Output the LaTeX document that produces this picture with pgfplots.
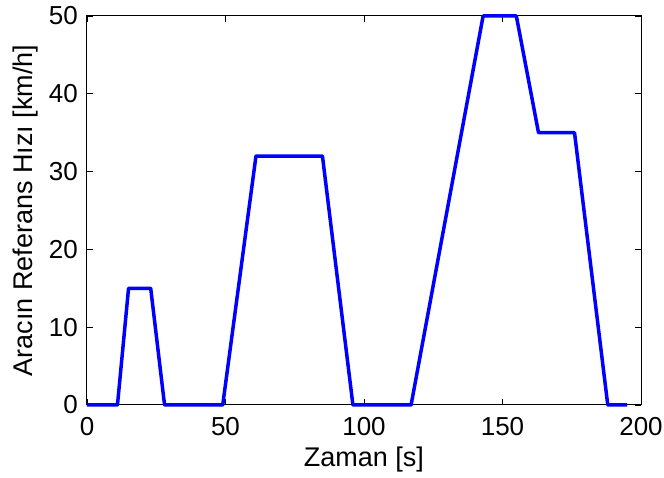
\documentclass[border=0pt]{standalone}
\usepackage{fontspec}
\setmainfont{Liberation Sans}
\usepackage{pgfplots}
\pgfplotsset{compat=1.18}

\begin{document}
\begin{tikzpicture}
  % page frame, in pixels of the reference
  \useasboundingbox (-87pt,-73pt) rectangle (577pt,405pt);
  \begin{axis}[
    at={(0pt,0pt)}, anchor=south west,
    scale only axis,
    width=554pt, height=389pt,
    xmin=0, xmax=200,
    ymin=0, ymax=50,
    xtick={0,50,100,150,200},
    ytick={0,10,20,30,40,50},
    tick align=inside,
    major tick length=6pt,
    tick style={black, line width=0.8pt},
    axis line style={black, line width=1pt},
    tick label style={font=\fontsize{26}{28}\selectfont, inner sep=0pt},
    label style={font=\fontsize{27}{29}\selectfont, inner sep=0pt},
    /pgf/number format/assume math mode=true,
    xticklabel style={anchor=north, yshift=-12pt},
    yticklabel style={anchor=east, xshift=-9pt},
    xlabel={Zaman [s]},
    ylabel={Aracın Referans Hızı [km/h]},
    xlabel style={at={(axis description cs:0.5,0)}, anchor=base, yshift=-62pt},
    ylabel style={at={(axis description cs:0,0.5)}, anchor=base, yshift=54pt},
    clip=false,
  ]
    \addplot[color=blue, line width=3.5pt, line join=round]
    coordinates {
    (0,0)(11,0)(15,15)(23,15)(28,0)(49,0)(61,32)(85,32)(96,0)
    (117,0)(143,50)(155,50)(163,35)(176,35)(188,0)(195,0)
    };
  \end{axis}
\end{tikzpicture}
\end{document}
